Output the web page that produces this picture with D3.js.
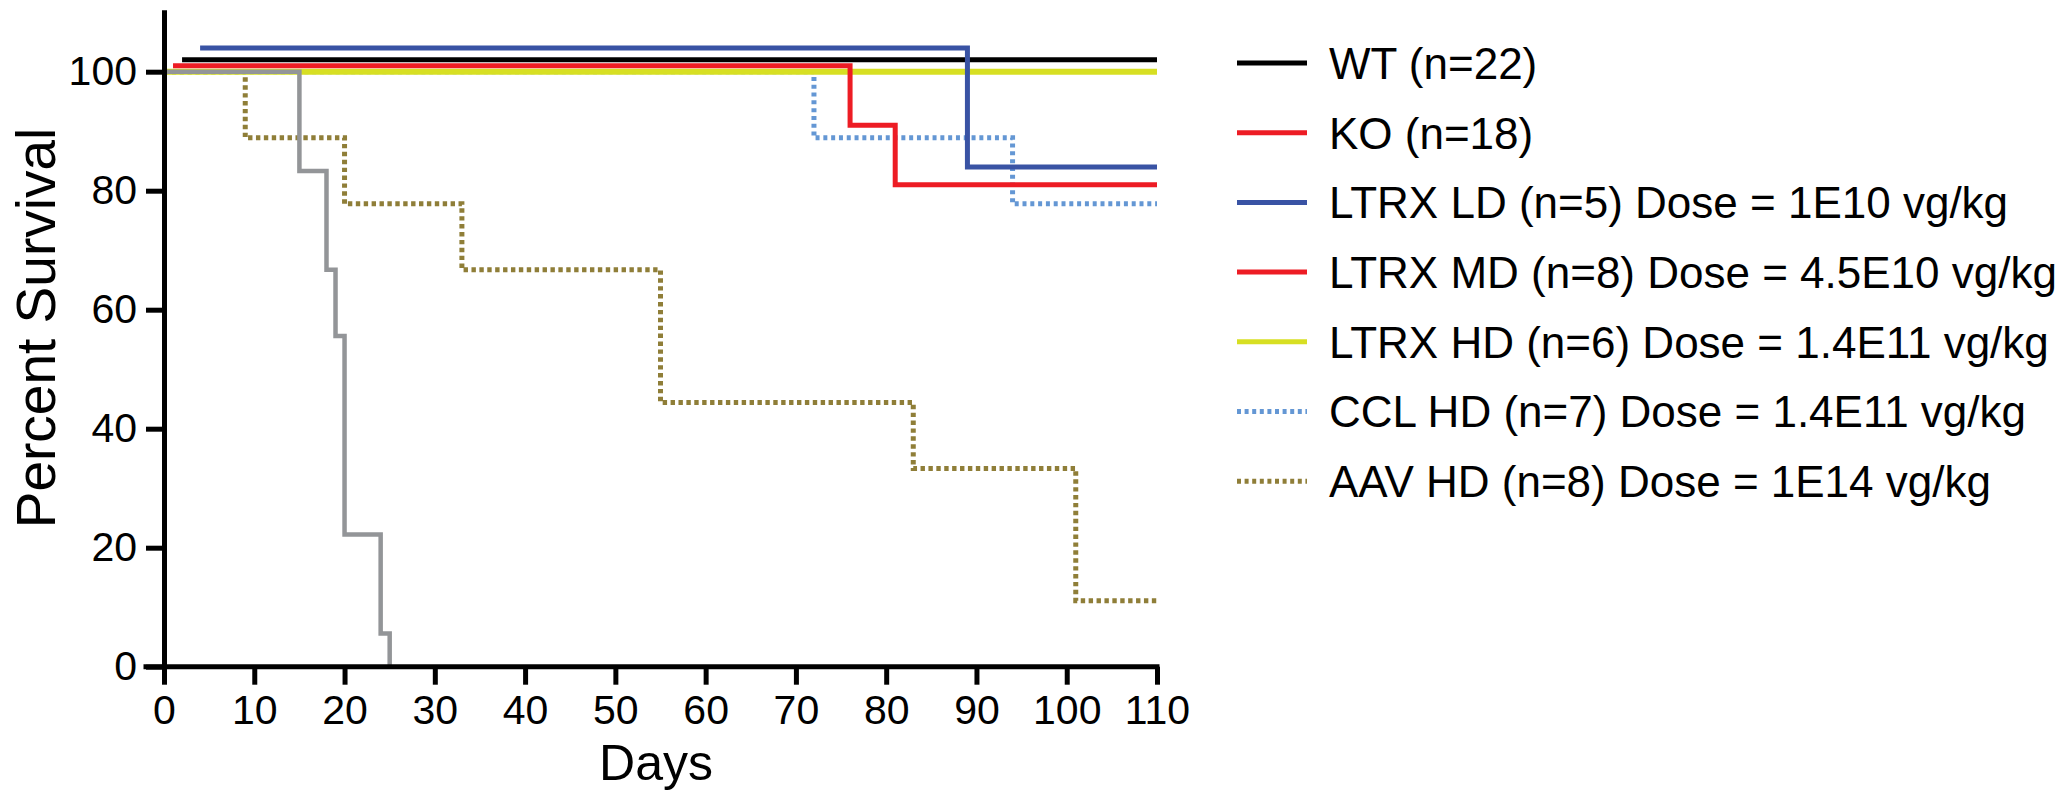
<!DOCTYPE html>
<html>
<head>
<meta charset="utf-8">
<script src="https://cdn.jsdelivr.net/npm/d3@7"></script>
<style>
  html, body { margin: 0; padding: 0; background: #fff; }
  svg { display: block; }
  text { font-family: "Liberation Sans", Arial, Helvetica, sans-serif; fill: #000; }
</style>
</head>
<body>
<svg id="chart" width="2069" height="794"></svg>
<script>
// ---- data ----
const xTicks = [0, 10, 20, 30, 40, 50, 60, 70, 80, 90, 100, 110];
const yTicks = [0, 20, 40, 60, 80, 100];

// step curves: day at which each level begins, survival level (%)
const ccl_T   = [0, 72, 94, 110];
const ccl_S   = [100, 88.9, 77.8, 77.8];
const aav_T   = [0, 9, 20, 33, 55, 83, 101, 110];
const aav_S   = [100, 88.9, 77.8, 66.7, 44.4, 33.3, 11.1, 11.1];
const hd_T    = [0, 110];
const hd_S    = [100, 100];
const wt_T    = [2, 110];
const wt_S    = [102, 102];
const md_T    = [1, 76, 81, 110];
const md_S    = [101, 91, 81, 81];
const ld_T    = [4, 89, 110];
const ld_S    = [104, 84, 84];
const ko_T    = [0, 15, 18, 19, 20, 24, 25];
const ko_S    = [100, 83.3, 66.7, 55.6, 22.2, 5.6, 0];

const legendLabels = [
  "WT (n=22)",
  "KO (n=18)",
  "LTRX LD (n=5) Dose = 1E10 vg/kg",
  "LTRX MD (n=8) Dose = 4.5E10 vg/kg",
  "LTRX HD (n=6) Dose = 1.4E11 vg/kg",
  "CCL HD (n=7) Dose = 1.4E11 vg/kg",
  "AAV HD (n=8) Dose = 1E14 vg/kg"
];
const legendColors = ["#000000", "#ed1c24", "#3953a4", "#ed1c24", "#d7df23", "#6497d4", "#8f7e38"];
const legendDash   = [null, null, null, null, null, "4,3.6", "4,3.6"];

// ---- drawing ----
const svg = d3.select("#chart");
const x = d3.scaleLinear().domain([0, 110]).range([164, 1157]);
const y = d3.scaleLinear().domain([0, 110]).range([666.7, 12.2]);

const series = [
  {T: ccl_T, S: ccl_S, color: "#6497d4", width: 5, dash: "4,3.8"},
  {T: aav_T, S: aav_S, color: "#8f7e38", width: 5, dash: "4.4,3.5"},
  {T: hd_T,  S: hd_S,  color: "#d7df23", width: 6, dash: null},
  {T: wt_T,  S: wt_S,  color: "#000000", width: 5, dash: null},
  {T: md_T,  S: md_S,  color: "#ed1c24", width: 5, dash: null},
  {T: ld_T,  S: ld_S,  color: "#3953a4", width: 5, dash: null},
  {T: ko_T,  S: ko_S,  color: "#939598", width: 4.5, dash: null}
];

const line = d3.line()
  .x(d => x(d[0]))
  .y(d => y(d[1]))
  .curve(d3.curveStepAfter);

const plot = svg.append("g");
series.forEach(s => {
  const pts = s.T.map((t, i) => [t, s.S[i]]);
  plot.append("path")
    .attr("d", line(pts))
    .attr("fill", "none")
    .attr("stroke", s.color)
    .attr("stroke-width", s.width)
    .attr("stroke-dasharray", s.dash)
    .attr("stroke-linejoin", "miter");
});

// axes
const xAxis = d3.axisBottom(x).tickValues(xTicks).tickSize(18).tickSizeOuter(0).tickPadding(10);
const yAxis = d3.axisLeft(y).tickValues(yTicks).tickSize(18).tickSizeOuter(0).tickPadding(9);

const gx = svg.append("g").attr("transform", `translate(0,${y(0)})`).call(xAxis);
const gy = svg.append("g").attr("transform", `translate(${x(0)},0)`).call(yAxis);

[gx, gy].forEach(g => {
  g.selectAll("path.domain").attr("stroke", "#000").attr("stroke-width", 5).attr("stroke-linecap", "square");
  g.selectAll(".tick line").attr("stroke", "#000").attr("stroke-width", 5);
  g.selectAll(".tick text")
    .style("font-family", '"Liberation Sans", Arial, Helvetica, sans-serif')
    .style("font-size", "41px")
    .attr("fill", "#000");
});
// extend x axis slightly left to meet the y tick, like the original
gx.select("path.domain").attr("d", `M${x(0) - 18},0H${x(110)}`);

// axis titles
svg.append("text")
  .attr("transform", "translate(55,328) rotate(-90)")
  .attr("text-anchor", "middle")
  .style("font-size", "55px")
  .text("Percent Survival");

svg.append("text")
  .attr("x", 656)
  .attr("y", 780)
  .attr("text-anchor", "middle")
  .style("font-size", "50px")
  .text("Days");

// legend
const lg = svg.append("g");
legendLabels.forEach((lab, i) => {
  const cy = 63 + i * 69.7;
  lg.append("line")
    .attr("x1", 1237).attr("x2", 1307)
    .attr("y1", cy).attr("y2", cy)
    .attr("stroke", legendColors[i])
    .attr("stroke-width", 5)
    .attr("stroke-dasharray", legendDash[i]);
  lg.append("text")
    .attr("x", 1329)
    .attr("y", cy)
    .attr("dy", "0.36em")
    .style("font-size", "44px")
    .text(lab);
});
</script>
</body>
</html>
